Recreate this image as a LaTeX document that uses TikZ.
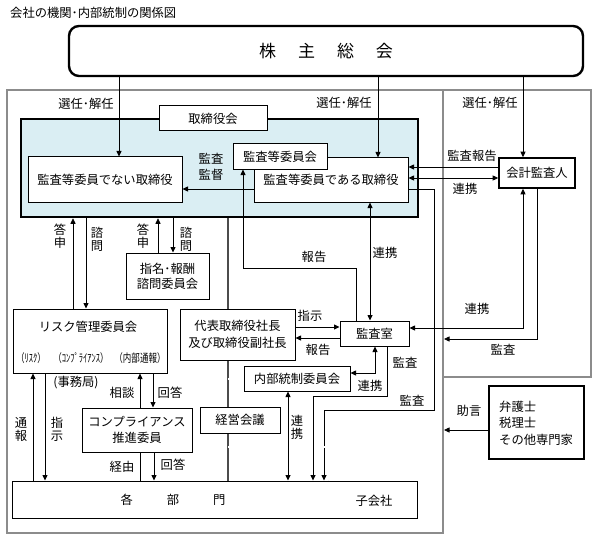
\documentclass[tikz,border=0pt]{standalone}
\usepackage{fontspec}
\setmainfont{Noto Sans CJK JP}
\usetikzlibrary{arrows.meta,calc}
\pgfdeclarelayer{back}
\pgfdeclarelayer{mid}
\pgfsetlayers{back,mid,main}
\definecolor{boardblue}{HTML}{DAEEF3}
\begin{document}
\begin{tikzpicture}[x=1pt,y=-1pt,
  font=\fontsize{12.3}{13}\selectfont,
  >={Triangle[length=5.5pt,width=5pt]},
  grayline/.style={draw=black!45, line width=1.3pt},
  box/.style={draw, line width=1pt, fill=white, inner sep=0pt, align=center},
  thickbox/.style={box, line width=1.6pt},
  lbl/.style={inner sep=0pt, align=center},
  conn/.style={line width=0.8pt},
  dbl/.style={draw=black!75, line width=0.6pt, double=white, double distance=1.3pt},
  spine/.style={draw=black!70, line width=2.6pt},
  small/.style={lbl, font=\fontsize{11.5}{12}\selectfont}
]
\useasboundingbox (0,0) rectangle (596,540);

% title
\node[lbl, anchor=west] (title) at (10,13) {会社の機関･内部統制の関係図};

% background frames and board
\begin{pgfonlayer}{back}
  \draw[grayline] (7,90) rectangle (443,533);
  \draw[grayline] (443,90) rectangle (591,377);
  \node[draw, line width=2.5pt, fill=boardblue, inner sep=0pt,
        minimum width=397pt, minimum height=98pt] (board) at (219.5,168) {};
\end{pgfonlayer}

% boxes
\node[box, rounded corners=10pt, line width=2.4pt, minimum width=514pt, minimum height=50pt]
  (share) at (326,51) {\fontsize{17}{20}\selectfont 株\hspace{22pt}主\hspace{22pt}総\hspace{22pt}会};
\node[box, minimum width=108pt, minimum height=25pt] (boardlbl) at (213,118.5) {取締役会};
\node[box, minimum width=154pt, minimum height=45pt] (nonaudit) at (105,179.5) {監査等委員でない取締役};
\node[box, minimum width=154pt, minimum height=44pt] (auditdir) at (331,180) {\raisebox{-1pt}{監査等委員である取締役}};
\node[box, minimum width=94pt, minimum height=25pt] (auditcom) at (280,156.5) {監査等委員会};
\node[thickbox, minimum width=76pt, minimum height=30pt] (accountant) at (537,173) {会計監査人};
\node[box, minimum width=83pt, minimum height=46pt, font=\fontsize{12.3}{15}\selectfont] (nomination) at (167.5,276) {指名･報酬\\諮問委員会};
\node[box, minimum width=154pt, minimum height=64pt] (risk) at (90,341) {};
\node[box, minimum width=115pt, minimum height=51pt, font=\fontsize{12.3}{17}\selectfont] (pres) at (237.5,334.5) {代表取締役社長\\及び取締役副社長};
\node[box, minimum width=69pt, minimum height=25pt] (auditroom) at (374.5,333.5) {監査室};
\node[box, minimum width=106pt, minimum height=25pt] (ic) at (297,378.5) {内部統制委員会};
\node[box, minimum width=80pt, minimum height=26pt] (mgmt) at (240,420) {経営会議};
\node[box, minimum width=110pt, minimum height=44pt, font=\fontsize{12.3}{16}\selectfont] (comp) at (137,430) {コンプライアンス\\推進委員};
\node[box, minimum width=405pt, minimum height=37pt] (depts) at (214.5,499.5) {};
\node[thickbox, minimum width=95pt, minimum height=73pt] (lawyers) at (536.5,422.5) {};

% texts inside boxes
\node[lbl] (risktxt) at (88,327) {リスク管理委員会};
\node[small] (lblrisk) at (31,358) {\scalebox{0.74}[1]{（ﾘｽｸ）}};
\node[small] (lblcomp) at (81,358) {\scalebox{0.74}[1]{（ｺﾝﾌﾟﾗｲｱﾝｽ）}};
\node[small] (lblrep) at (140,358) {\scalebox{0.74}[1]{（内部通報）}};
\node[lbl] (depttxt) at (173,500) {各\hspace{34pt}部\hspace{34pt}門};
\node[lbl] (subtxt) at (374,501) {子会社};
\node[lbl, align=left, anchor=west, font=\fontsize{12.3}{16.5}\selectfont] (lawtxt) at (499,423) {弁護士\\税理士\\その他専門家};

% free ends and fan points
\coordinate (cmpA) at (444,339);
\coordinate (cmpB) at (444,430);
\coordinate (fan) at (87,333);
\coordinate (fanL) at (32,348);
\coordinate (fanM) at (87,348);
\coordinate (fanR) at (139,348);

\begin{pgfonlayer}{mid}
  % shareholders
  \draw[conn,->] (119,0 |- share.south) -- (119,0 |- nonaudit.north);
  \draw[conn,->] (378,0 |- share.south) -- (378,0 |- auditdir.north);
  \draw[conn,->] (523,0 |- share.south) -- (523,0 |- accountant.north);
  % accountant and audit directors
  \draw[conn,->] (accountant.west |- 0,167) -- (auditdir.east |- 0,167);
  \draw[conn,<->] (auditdir.east |- 0,178) -- (accountant.west |- 0,178);
  % audit directors to non-audit
  \draw[conn,->] (auditdir.west |- 0,189) -- (nonaudit.east |- 0,189);
  % audit to depts
  \draw[conn,->] (auditdir.east |- 0,189) -- (434,189) -- (434,410) -- (324,410) -- (324,0 |- depts.north);
  % risk <-> board
  \draw[conn,->] (73,0 |- risk.north) -- (73,0 |- board.south);
  \draw[conn,->] (86,0 |- board.south) -- (86,0 |- risk.north);
  % nomination <-> board
  \draw[conn,->] (158,0 |- nomination.north) -- (158,0 |- board.south);
  \draw[conn,->] (173,0 |- board.south) -- (173,0 |- nomination.north);
  % spine and double connectors
  \draw[spine] (228,0 |- board.south) -- (228,0 |- depts.north);
  \draw[dbl] (risk.east |- 0,331) -- (pres.west |- 0,331);
  \draw[dbl] (228,379) -- (ic.west |- 0,379);
  \draw[dbl] (228,447) -- (378,447) -- (378,0 |- depts.north);
  % audit room links
  \draw[conn,->] (356,0 |- auditroom.north) -- (356,268) -- (243,268) -- (243,0 |- auditcom.south);
  \draw[conn,<->] (370,0 |- auditdir.south) -- (370,0 |- auditroom.north);
  \draw[conn,->] (pres.east |- 0,327) -- (auditroom.west |- 0,327);
  \draw[conn,->] (auditroom.west |- 0,338) -- (pres.east |- 0,338);
  \draw[conn,<->] (375,0 |- auditroom.south) -- (375,373) -- (ic.east |- 0,373);
  \draw[conn,->] (387,0 |- auditroom.south) -- (387,396) -- (313,396) -- (313,0 |- depts.north);
  \draw[conn,<->] (288,0 |- ic.south) -- (288,0 |- depts.north);
  % accountant links
  \draw[conn,<->] (523,0 |- accountant.south) -- (523,328) -- (auditroom.east |- 0,328);
  \draw[conn,->] (537,0 |- accountant.south) -- (537,339) -- (cmpA);
  \draw[conn,->] (lawyers.west |- 0,430) -- (cmpB);
  % risk fan
  \draw[conn,->] (fan) -- (fanL);
  \draw[conn,->] (fan) -- (fanM);
  \draw[conn,->] (fan) -- (fanR);
  % risk <-> compliance
  \draw[conn,->] (140,0 |- comp.north) -- (140,0 |- risk.south);
  \draw[conn,->] (153,0 |- risk.south) -- (153,0 |- comp.north);
  \draw[conn] (140,0 |- comp.south) -- (140,0 |- depts.north);
  \draw[conn,->] (154,0 |- comp.south) -- (154,0 |- depts.north);
  % report / instruction
  \draw[conn,->] (33,0 |- depts.north) -- (33,0 |- risk.south);
  \draw[conn,->] (45,0 |- risk.south) -- (45,0 |- depts.north);
  % subsidiary divider
  \draw[dash pattern=on 2.5pt off 2pt, line width=0.8pt] (328,0 |- depts.north) -- (328,0 |- depts.south);
\end{pgfonlayer}

% connector labels
\node[lbl] at (86,104) {選任･解任};
\node[lbl] at (344,103) {選任･解任};
\node[lbl] at (490,103) {選任･解任};
\node[lbl] at (472,156) {監査報告};
\node[lbl] at (465,189) {連携};
\node[lbl, font=\fontsize{12.3}{16}\selectfont] at (211,167) {監査\\監督};
\node[lbl] at (412,401) {監査};
\node[lbl] at (60,236) {答\\申};
\node[lbl] at (97,239) {諮\\問};
\node[lbl] at (143,236) {答\\申};
\node[lbl] at (186,239) {諮\\問};
\node[lbl] at (314,257) {報告};
\node[lbl] at (385,253) {連携};
\node[lbl] at (310,316) {指示};
\node[lbl] at (318,350) {報告};
\node[lbl] at (370,386) {連携};
\node[lbl] at (405,363) {監査};
\node[lbl] at (297,427) {連\\携};
\node[lbl] at (477,309) {連携};
\node[lbl] at (503,350) {監査};
\node[lbl] at (469,411) {助言};
\node[lbl] at (76,383) {(事務局)};
\node[lbl] at (122,393) {相談};
\node[lbl] at (170,393) {回答};
\node[lbl] at (122,467) {経由};
\node[lbl] at (173,465) {回答};
\node[lbl] at (21,429) {通\\報};
\node[lbl] at (57,429) {指\\示};
\end{tikzpicture}
\end{document}
